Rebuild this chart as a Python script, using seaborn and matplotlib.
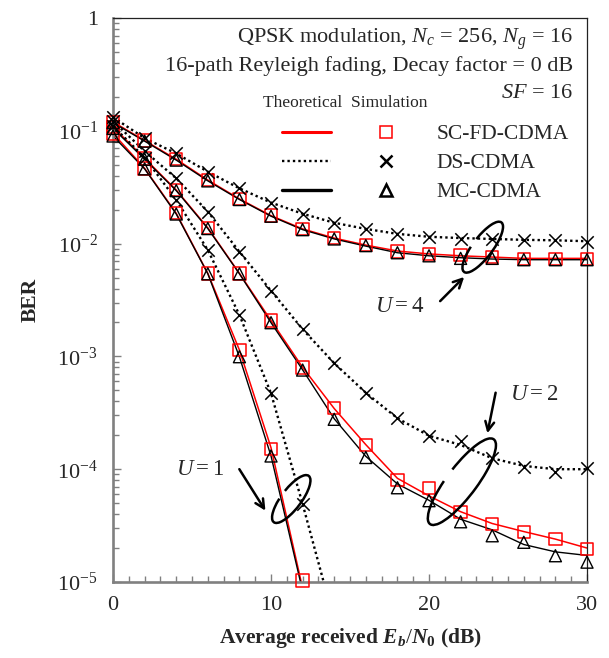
import numpy as np
import pandas as pd
import seaborn as sns
import matplotlib
matplotlib.use('Agg')
import matplotlib.pyplot as plt
import matplotlib.ticker as mticker
import matplotlib.transforms as mtransforms
from matplotlib.patches import Arc
from matplotlib.lines import Line2D

# Eb/N0 grid (dB)
snr = [0, 2, 4, 6, 8, 10, 12, 14, 16, 18, 20, 22, 24, 26, 28, 30]
snr_u1 = [0, 2, 4, 6, 8, 10, 12]
snr_u1_ds = [0, 2, 4, 6, 8, 10, 12, 14]

# U = 4
sc4_theory = [0.12, 0.082, 0.056, 0.0366, 0.0249, 0.0177, 0.0135, 0.0112, 0.0097, 0.0086, 0.0081, 0.0078, 0.0076, 0.0074, 0.0074, 0.0074]
sc4_sim = [0.12, 0.082, 0.056, 0.0366, 0.0249, 0.0177, 0.0135, 0.0112, 0.0097, 0.0085, 0.0081, 0.0079, 0.0076, 0.0073, 0.0073, 0.0073]
mc4_theory = [0.118, 0.081, 0.055, 0.036, 0.0246, 0.0175, 0.0133, 0.0110, 0.0095, 0.0083, 0.0078, 0.0075, 0.0073, 0.0072, 0.0072, 0.0072]
mc4_sim = [0.118, 0.081, 0.055, 0.036, 0.0246, 0.0175, 0.0133, 0.0110, 0.0096, 0.0083, 0.0078, 0.0074, 0.0074, 0.0072, 0.0072, 0.0072]
ds4_theory = [0.132, 0.086, 0.063, 0.0434, 0.0309, 0.0231, 0.0184, 0.0153, 0.0135, 0.0122, 0.0115, 0.0112, 0.0110, 0.0108, 0.0107, 0.0105]
ds4_sim = [0.132, 0.086, 0.063, 0.0434, 0.0309, 0.0231, 0.0184, 0.0153, 0.0135, 0.0122, 0.0115, 0.0111, 0.0111, 0.0108, 0.0108, 0.0104]

# U = 2
sc2_theory = [0.108, 0.057, 0.0299, 0.0138, 0.00545, 0.00208, 8.0e-4, 3.45e-4, 1.65e-4, 8.3e-5, 5.8e-5, 4.2e-5, 3.3e-5, 2.8e-5, 2.4e-5, 2.0e-5]
sc2_sim = [0.108, 0.057, 0.0299, 0.0138, 0.00545, 0.00208, 7.98e-4, 3.47e-4, 1.64e-4, 8.0e-5, 6.8e-5, 4.15e-5, 3.25e-5, 2.79e-5, 2.41e-5, 1.96e-5]
mc2_theory = [0.105, 0.056, 0.0295, 0.0136, 0.0054, 0.00199, 7.6e-4, 2.8e-4, 1.3e-4, 7.4e-5, 5.3e-5, 3.6e-5, 2.9e-5, 2.15e-5, 1.85e-5, 1.72e-5]
mc2_sim = [0.105, 0.056, 0.0295, 0.0136, 0.0054, 0.00199, 7.57e-4, 2.77e-4, 1.27e-4, 6.85e-5, 5.26e-5, 3.42e-5, 2.57e-5, 2.25e-5, 1.71e-5, 1.5e-5]
ds2_theory = [0.122, 0.066, 0.0379, 0.0192, 0.00848, 0.00382, 1.74e-3, 8.7e-4, 4.76e-4, 2.83e-4, 1.98e-4, 1.64e-4, 1.25e-4, 1.07e-4, 1.0e-4, 1.0e-4]
ds2_sim = [0.122, 0.066, 0.0379, 0.0192, 0.00848, 0.00382, 1.74e-3, 8.73e-4, 4.76e-4, 2.83e-4, 1.98e-4, 1.79e-4, 1.25e-4, 1.05e-4, 9.5e-5, 1.02e-4]

# U = 1
sc1_theory = [0.095, 0.0465, 0.0186, 0.00545, 1.14e-3, 1.55e-4, 8.8e-6]
sc1_sim = [0.095, 0.0465, 0.0186, 0.00545, 1.14e-3, 1.51e-4, 1.03e-5]
mc1_theory = [0.09, 0.046, 0.0183, 0.0054, 9.9e-4, 1.31e-4, 8.3e-6]
mc1_sim = [0.09, 0.046, 0.0183, 0.0054, 9.94e-4, 1.31e-4]
ds1_theory = [0.11, 0.058, 0.0244, 0.00877, 2.33e-3, 4.71e-4, 4.91e-5, 4.5e-6]
ds1_sim = [0.11, 0.058, 0.0244, 0.00877, 2.33e-3, 4.71e-4, 4.91e-5]

yticks = [1e-5, 1e-4, 1e-3, 1e-2, 1e-1, 1]
ytick_labels = ['$10^{-5}$', '$10^{-4}$', '$10^{-3}$', '$10^{-2}$', '$10^{-1}$', '1']

sns.set_style('ticks')
plt.rcParams['font.family'] = ['Liberation Serif', 'DejaVu Serif']
plt.rcParams['mathtext.fontset'] = 'custom'
plt.rcParams['mathtext.rm'] = 'Liberation Serif'
plt.rcParams['mathtext.it'] = 'Liberation Serif:italic'
plt.rcParams['mathtext.bf'] = 'Liberation Serif:bold'
plt.rcParams['mathtext.bfit'] = 'Liberation Serif:bold:italic'

fig = plt.figure(figsize=(6.09, 6.58), dpi=100)
ax = fig.add_axes([0.1856, 0.1155, 0.7783, 0.8571])
ax.set_yscale('log')

red = '#ff0000'
dotted = (0, (1, 1.3))

# theory curves
sns.lineplot(x=snr, y=sc4_theory, ax=ax, color=red, lw=1.1, estimator=None, zorder=2)
sns.lineplot(x=snr, y=mc4_theory, ax=ax, color='black', lw=1.0, estimator=None, zorder=2)
sns.lineplot(x=snr, y=ds4_theory, ax=ax, color='black', lw=1.7, linestyle=dotted, estimator=None, zorder=2)
sns.lineplot(x=snr, y=sc2_theory, ax=ax, color=red, lw=1.1, estimator=None, zorder=2)
sns.lineplot(x=snr, y=mc2_theory, ax=ax, color='black', lw=1.0, estimator=None, zorder=2)
sns.lineplot(x=snr, y=ds2_theory, ax=ax, color='black', lw=1.7, linestyle=dotted, estimator=None, zorder=2)
sns.lineplot(x=snr_u1, y=sc1_theory, ax=ax, color=red, lw=1.1, estimator=None, zorder=2)
sns.lineplot(x=snr_u1, y=mc1_theory, ax=ax, color='black', lw=1.0, estimator=None, zorder=2)
sns.lineplot(x=snr_u1_ds, y=ds1_theory, ax=ax, color='black', lw=1.7, linestyle=dotted, estimator=None, zorder=2)

# simulation points
sq = dict(marker='s', s=80, facecolor='none', edgecolor=red, linewidth=1.1, zorder=4, clip_on=False)
tri = dict(marker='^', s=75, facecolor='none', edgecolor='black', linewidth=1.0, zorder=5, clip_on=False)
crs = dict(marker='x', s=80, color='black', linewidth=1.1, zorder=5, clip_on=False)
for y in [sc4_sim, sc2_sim]:
    sns.scatterplot(x=snr, y=y, ax=ax, **sq)
sns.scatterplot(x=snr_u1, y=sc1_sim, ax=ax, **sq)
for y in [mc4_sim, mc2_sim]:
    sns.scatterplot(x=snr, y=y, ax=ax, **tri)
sns.scatterplot(x=snr_u1[:6], y=mc1_sim, ax=ax, **tri)
for y in [ds4_sim, ds2_sim]:
    sns.scatterplot(x=snr, y=y, ax=ax, **crs)
sns.scatterplot(x=snr_u1, y=ds1_sim, ax=ax, **crs)

ax.set_xlim(0, 30)
ax.set_ylim(1e-5, 1)
ax.set_xticks([0, 10, 20, 30])
ax.xaxis.set_minor_locator(mticker.MultipleLocator(1))
ax.set_yticks(yticks)
ax.set_yticklabels(ytick_labels)
ax.yaxis.set_minor_locator(mticker.LogLocator(base=10, subs=np.arange(2, 10)))
ax.yaxis.set_minor_formatter(mticker.NullFormatter())
ax.tick_params(which='both', direction='in', color='#808080', width=1.0, labelsize=16)
ax.tick_params(which='major', length=6)
ax.tick_params(which='minor', length=4)
ax.tick_params(axis='x', pad=10)
ax.tick_params(axis='y', pad=11)
for s in ['left', 'bottom']:
    ax.spines[s].set_color('#808080')
    ax.spines[s].set_linewidth(1.9)
for s in ['top', 'right']:
    ax.spines[s].set_color('#222222')
    ax.spines[s].set_linewidth(0.9)

ax.set_xlabel(r'Average received $\mathbfit{E}_\mathbfit{b}/\mathbfit{N}_\mathbf{0}$ (dB)',
              fontsize=15.5, fontweight='bold', labelpad=8)
ax.set_ylabel('BER', fontsize=15.5, fontweight='bold', labelpad=12)

# condition text
ax.text(0.970, 0.9625, r'QPSK modulation, $N_c$ = 256, $N_g$ = 16', transform=ax.transAxes,
        ha='right', va='center', fontsize=16)
ax.text(0.970, 0.9147, '16-path Reyleigh fading, Decay factor = 0 dB', transform=ax.transAxes,
        ha='right', va='center', fontsize=16)
ax.text(0.970, 0.8668, r'$SF$ = 16', transform=ax.transAxes, ha='right', va='center', fontsize=16)
ax.text(0.316, 0.849, 'Theoretical  Simulation', transform=ax.transAxes, ha='left', va='center', fontsize=12.5)

# legend: line column + marker column
handles = [
    Line2D([], [], color=red, lw=2.2),
    Line2D([], [], color='black', lw=1.7, linestyle=dotted),
    Line2D([], [], color='black', lw=2.4),
    Line2D([], [], color=red, marker='s', ms=8.5, mfc='none', mew=1.1, ls='none'),
    Line2D([], [], color='black', marker='x', ms=8, mew=1.8, ls='none'),
    Line2D([], [], color='black', marker='^', ms=9, mfc='none', mew=1.8, ls='none'),
]
labels = ['', '', '', 'SC-FD-CDMA', 'DS-CDMA', 'MC-CDMA']
ax.legend(handles, labels, ncol=2, loc='upper left', bbox_to_anchor=(0.356, 0.812),
          frameon=False, fontsize=15.5, borderpad=0, borderaxespad=0, handlelength=2.3,
          handletextpad=1.2, columnspacing=0.2, labelspacing=0.42)

# user-count annotations
ann = dict(arrowprops=dict(arrowstyle='->', lw=1.8, color='black', mutation_scale=16))
ax.annotate('', xy=(22.35, 5.27e-3), xytext=(20.58, 2.97e-3), **ann)
ax.annotate('', xy=(23.66, 1.97e-4), xytext=(24.25, 5.04e-4), **ann)
ax.annotate('', xy=(9.74, 4.09e-5), xytext=(7.9, 1.05e-4), **ann)
ax.text(18.14, 2.75e-3, r'$U = 4$', ha='center', va='center', fontsize=16.5)
ax.text(26.66, 4.6e-4, r'$U = 2$', ha='center', va='center', fontsize=16.5)
ax.text(5.5, 1.0e-4, r'$U = 1$', ha='center', va='center', fontsize=16.5)

ellipses = [
    (23.4, 9.3e-3, 62, 20),
    (22.08, 7.75e-5, 106, 30),
    (11.28, 5.44e-5, 58, 20),
]
for cx, cy, w, h in ellipses:
    trans = fig.dpi_scale_trans + mtransforms.ScaledTranslation(cx, cy, ax.transData)
    arc = Arc((0, 0), w / 100, h / 100, angle=53, theta1=125, theta2=435,
              transform=trans, lw=1.8, color='black', zorder=6, clip_on=False)
    ax.add_patch(arc)

ax.set_xlim(0, 30)
ax.set_ylim(1e-5, 1)

fig.savefig('out.png', dpi=100)
